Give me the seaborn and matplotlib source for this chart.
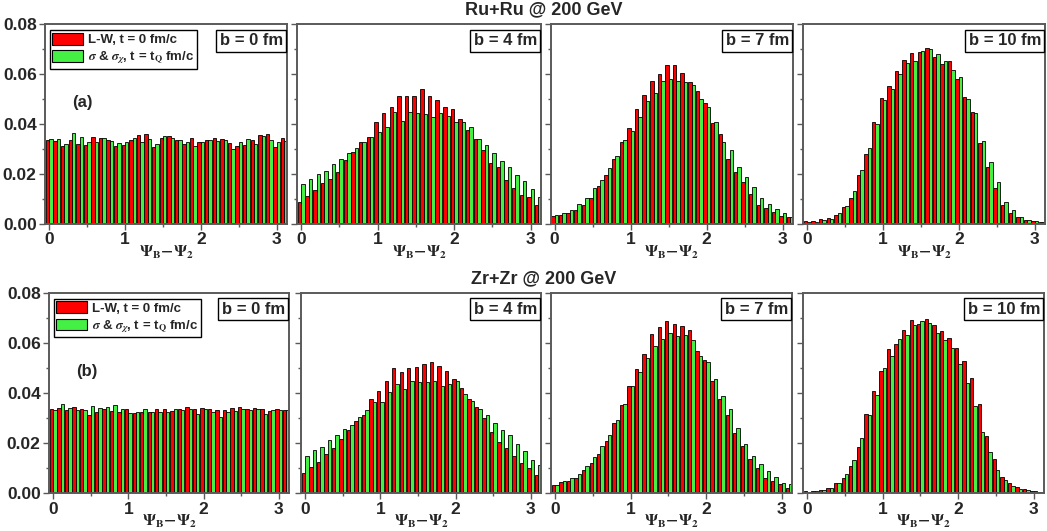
import numpy as np
import pandas as pd
import matplotlib
matplotlib.use('Agg')
import matplotlib.pyplot as plt
import seaborn as sns
from matplotlib.ticker import MultipleLocator, FormatStrFormatter

# bin positions of Psi_B - Psi_2
psi = np.round(np.arange(32) * 0.1, 1)
b_labels = ['b = 0 fm', 'b = 4 fm', 'b = 7 fm', 'b = 10 fm']

# Ru+Ru, L-W (t = 0) and sigma & sigma_chi (t = t_Q)
ru_lw_b0 = [0.0336, 0.0332, 0.0313, 0.0336, 0.0321, 0.0318, 0.0349, 0.0346, 0.0336, 0.0314, 0.0317, 0.0337, 0.0357, 0.0360, 0.0309, 0.0345,
            0.0353, 0.0336, 0.0322, 0.0345, 0.0330, 0.0336, 0.0343, 0.0341, 0.0323, 0.0314, 0.0317, 0.0337, 0.0356, 0.0361, 0.0309, 0.0346]
ru_sg_b0 = [0.0340, 0.0340, 0.0321, 0.0364, 0.0348, 0.0330, 0.0328, 0.0344, 0.0334, 0.0326, 0.0328, 0.0345, 0.0328, 0.0340, 0.0321, 0.0353,
            0.0344, 0.0337, 0.0330, 0.0313, 0.0328, 0.0337, 0.0334, 0.0337, 0.0301, 0.0328, 0.0340, 0.0321, 0.0352, 0.0337, 0.0329, 0.0332]
ru_lw_b4 = [0.0087, 0.0112, 0.0136, 0.0163, 0.0180, 0.0208, 0.0256, 0.0290, 0.0330, 0.0350, 0.0407, 0.0443, 0.0470, 0.0512, 0.0512, 0.0512,
            0.0539, 0.0512, 0.0496, 0.0467, 0.0459, 0.0420, 0.0376, 0.0339, 0.0296, 0.0245, 0.0229, 0.0176, 0.0145, 0.0116, 0.0107, 0.0076]
ru_sg_b4 = [0.0159, 0.0180, 0.0199, 0.0213, 0.0239, 0.0259, 0.0283, 0.0305, 0.0328, 0.0347, 0.0367, 0.0389, 0.0449, 0.0413, 0.0449, 0.0445,
            0.0439, 0.0427, 0.0443, 0.0432, 0.0409, 0.0409, 0.0389, 0.0339, 0.0316, 0.0283, 0.0252, 0.0227, 0.0196, 0.0173, 0.0139, 0.0107]
ru_lw_b7 = [0.0032, 0.0036, 0.0043, 0.0055, 0.0076, 0.0104, 0.0152, 0.0195, 0.0260, 0.0328, 0.0383, 0.0459, 0.0516, 0.0572, 0.0599, 0.0636,
            0.0636, 0.0603, 0.0569, 0.0533, 0.0483, 0.0403, 0.0359, 0.0260, 0.0207, 0.0167, 0.0119, 0.0076, 0.0063, 0.0047, 0.0032, 0.0027]
ru_sg_b7 = [0.0035, 0.0045, 0.0056, 0.0080, 0.0105, 0.0144, 0.0176, 0.0224, 0.0272, 0.0336, 0.0372, 0.0427, 0.0492, 0.0523, 0.0573, 0.0581,
            0.0573, 0.0569, 0.0556, 0.0499, 0.0469, 0.0409, 0.0329, 0.0296, 0.0227, 0.0187, 0.0147, 0.0105, 0.0079, 0.0059, 0.0045, 0.0029]
ru_lw_b10 = [0.0011, 0.0012, 0.0019, 0.0023, 0.0036, 0.0067, 0.0103, 0.0195, 0.0279, 0.0407, 0.0503, 0.0551, 0.0611, 0.0655, 0.0684, 0.0690,
             0.0705, 0.0669, 0.0639, 0.0652, 0.0579, 0.0507, 0.0447, 0.0325, 0.0227, 0.0143, 0.0075, 0.0044, 0.0027, 0.0016, 0.0011, 0.0008]
ru_sg_b10 = [0.0007, 0.0008, 0.0016, 0.0019, 0.0043, 0.0072, 0.0131, 0.0216, 0.0303, 0.0400, 0.0496, 0.0539, 0.0600, 0.0643, 0.0652, 0.0695,
             0.0700, 0.0680, 0.0652, 0.0616, 0.0589, 0.0499, 0.0443, 0.0332, 0.0247, 0.0168, 0.0090, 0.0055, 0.0027, 0.0016, 0.0011, 0.0008]

# Zr+Zr
zr_lw_b0 = [0.0335, 0.0342, 0.0333, 0.0345, 0.0336, 0.0312, 0.0325, 0.0338, 0.0328, 0.0325, 0.0335, 0.0320, 0.0325, 0.0325, 0.0336, 0.0335,
            0.0327, 0.0338, 0.0345, 0.0335, 0.0339, 0.0335, 0.0333, 0.0334, 0.0340, 0.0345, 0.0335, 0.0340, 0.0335, 0.0330, 0.0335, 0.0333]
zr_sg_b0 = [0.0333, 0.0357, 0.0340, 0.0333, 0.0333, 0.0347, 0.0341, 0.0345, 0.0352, 0.0337, 0.0322, 0.0323, 0.0337, 0.0323, 0.0325, 0.0326,
            0.0335, 0.0333, 0.0335, 0.0318, 0.0335, 0.0325, 0.0305, 0.0326, 0.0327, 0.0337, 0.0333, 0.0336, 0.0318, 0.0334, 0.0333, 0.0333]
zr_lw_b4 = [0.0082, 0.0106, 0.0126, 0.0155, 0.0179, 0.0215, 0.0252, 0.0288, 0.0312, 0.0376, 0.0408, 0.0448, 0.0498, 0.0485, 0.0498, 0.0502,
            0.0515, 0.0522, 0.0507, 0.0487, 0.0457, 0.0418, 0.0378, 0.0345, 0.0299, 0.0243, 0.0203, 0.0179, 0.0150, 0.0122, 0.0102, 0.0073]
zr_sg_b4 = [0.0150, 0.0171, 0.0185, 0.0212, 0.0231, 0.0256, 0.0274, 0.0303, 0.0331, 0.0364, 0.0364, 0.0404, 0.0434, 0.0414, 0.0446, 0.0442,
            0.0442, 0.0449, 0.0426, 0.0434, 0.0448, 0.0398, 0.0369, 0.0335, 0.0311, 0.0282, 0.0252, 0.0234, 0.0195, 0.0170, 0.0131, 0.0113]
zr_lw_b7 = [0.0033, 0.0044, 0.0049, 0.0062, 0.0093, 0.0120, 0.0155, 0.0210, 0.0282, 0.0352, 0.0429, 0.0495, 0.0555, 0.0637, 0.0665, 0.0687,
            0.0677, 0.0667, 0.0651, 0.0567, 0.0531, 0.0449, 0.0378, 0.0312, 0.0239, 0.0190, 0.0137, 0.0102, 0.0060, 0.0049, 0.0036, 0.0023]
zr_sg_b7 = [0.0033, 0.0050, 0.0061, 0.0077, 0.0110, 0.0143, 0.0189, 0.0232, 0.0292, 0.0357, 0.0429, 0.0482, 0.0538, 0.0588, 0.0615, 0.0640,
            0.0628, 0.0631, 0.0611, 0.0548, 0.0525, 0.0454, 0.0389, 0.0335, 0.0262, 0.0195, 0.0149, 0.0115, 0.0089, 0.0066, 0.0040, 0.0036]
zr_lw_b10 = [0.0011, 0.0011, 0.0013, 0.0023, 0.0040, 0.0060, 0.0109, 0.0183, 0.0315, 0.0408, 0.0487, 0.0575, 0.0595, 0.0651, 0.0693, 0.0677,
             0.0695, 0.0673, 0.0648, 0.0618, 0.0580, 0.0527, 0.0458, 0.0355, 0.0228, 0.0137, 0.0066, 0.0040, 0.0024, 0.0017, 0.0011, 0.0007]
zr_sg_b10 = [0.0007, 0.0009, 0.0015, 0.0021, 0.0042, 0.0076, 0.0133, 0.0219, 0.0312, 0.0392, 0.0498, 0.0548, 0.0615, 0.0630, 0.0673, 0.0688,
             0.0681, 0.0641, 0.0611, 0.0580, 0.0514, 0.0438, 0.0349, 0.0243, 0.0166, 0.0093, 0.0052, 0.0029, 0.0017, 0.0013, 0.0009, 0.0007]

rows = [
    ('Ru+Ru @ 200 GeV', '(a)', [(ru_lw_b0, ru_sg_b0), (ru_lw_b4, ru_sg_b4), (ru_lw_b7, ru_sg_b7), (ru_lw_b10, ru_sg_b10)]),
    ('Zr+Zr @ 200 GeV', '(b)', [(zr_lw_b0, zr_sg_b0), (zr_lw_b4, zr_sg_b4), (zr_lw_b7, zr_sg_b7), (zr_lw_b10, zr_sg_b10)]),
]

sns.set_theme(style='ticks')
plt.rcParams['font.family'] = ['Liberation Sans', 'DejaVu Sans']
plt.rcParams['font.weight'] = 'bold'
plt.rcParams['mathtext.fontset'] = 'stix'

W, H = 1047, 531
fig = plt.figure(figsize=(W / 100, H / 100), dpi=100)

# panel extents in pixels (left, right) per row, (top, bottom) per row
col_px = [[(45, 287), (297, 541), (550.5, 793), (803, 1045)],
          [(49, 289), (301, 541), (551, 792), (803, 1044)]]
row_px = [(24.3, 224), (292.7, 493.3)]
title_y = [10, 279]

spine_col = '#5a5a5a'
colors = ['#ff0000', '#44f044']

for r, (title, tag, panels) in enumerate(rows):
    top, bot = row_px[r]
    for c, (lw_vals, sg_vals) in enumerate(panels):
        l, rr = col_px[r][c]
        ax = fig.add_axes([l / W, 1 - bot / H, (rr - l) / W, (bot - top) / H])
        df = pd.DataFrame({
            'psi': np.concatenate([psi, psi]),
            'val': list(lw_vals) + list(sg_vals),
            'model': ['lw'] * len(psi) + ['sg'] * len(psi),
        })
        sns.barplot(data=df, x='psi', y='val', hue='model', native_scale=True,
                    palette=colors, saturation=1, width=0.9, errorbar=None,
                    edgecolor='black', linewidth=0.6, ax=ax, legend=(c == 0))
        ax.set_xlim(-0.055, 3.135)
        ax.set_ylim(0, 0.08)
        ax.xaxis.set_major_locator(MultipleLocator(1))
        ax.xaxis.set_minor_locator(MultipleLocator(0.5))
        ax.yaxis.set_major_locator(MultipleLocator(0.02))
        ax.yaxis.set_minor_locator(MultipleLocator(0.01))
        ax.yaxis.set_major_formatter(FormatStrFormatter('%.2f'))
        ax.tick_params(which='major', direction='out', length=4, width=1, color=spine_col,
                       labelsize=12.5, pad=2)
        ax.tick_params(which='minor', direction='out', length=2.5, width=1, color=spine_col)
        if c > 0:
            ax.tick_params(labelleft=False)
        for s in ax.spines.values():
            s.set_color(spine_col)
            s.set_linewidth(1.4)
        ax.set_ylabel('')
        ax.set_xlabel(r'$\Psi_{\rm B}\!-\!\Psi_2$', fontsize=11.5, labelpad=-3)
        ax.text(0.983, 0.955, b_labels[c], transform=ax.transAxes, ha='right', va='top',
                fontsize=12, fontweight='bold',
                bbox=dict(boxstyle='square,pad=0.2', fc='white', ec='black', lw=1))
        if c == 0:
            handles, _ = ax.get_legend_handles_labels()
            leg = ax.legend(handles, ['L-W, t = 0 fm/c',
                                      r'$\sigma$ & $\sigma_\chi$, t = t$_\mathbf{Q}$ fm/c'],
                            loc='upper left', bbox_to_anchor=(0.02, 0.97), borderaxespad=0,
                            frameon=True, fancybox=False, framealpha=1, edgecolor='black',
                            fontsize=9.5, handlelength=2.3, handleheight=1.0,
                            borderpad=0.2, labelspacing=0.25, handletextpad=0.4)
            leg.get_frame().set_linewidth(1)
            for h in leg.legend_handles:
                h.set_edgecolor('black')
                h.set_linewidth(0.8)
            ax.text(0.3, 0.0485, tag, fontsize=12, fontweight='bold', ha='left', va='center')
    fig.text(544 / W, 1 - title_y[r] / H, title, ha='center', va='center',
             fontsize=13, fontweight='bold')

fig.savefig('out.png', dpi=100)
